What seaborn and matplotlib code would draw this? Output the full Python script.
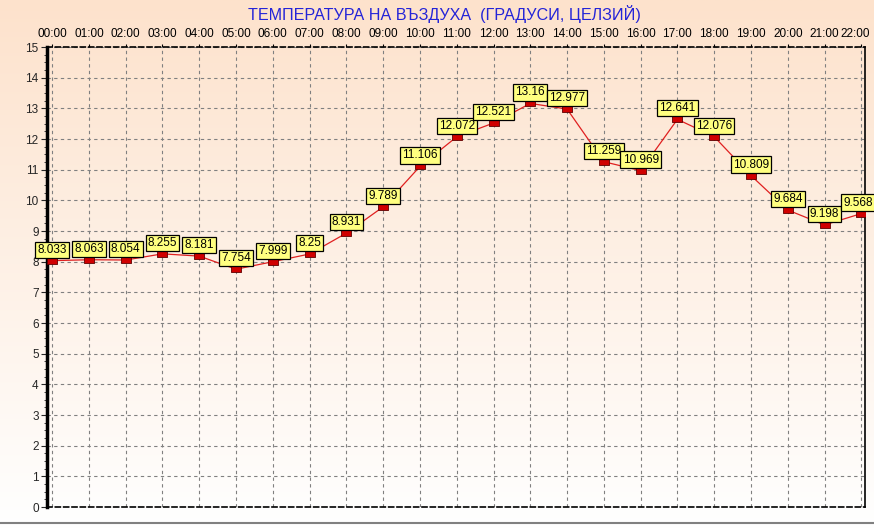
import numpy as np
import pandas as pd
import seaborn as sns
import matplotlib.pyplot as plt
import matplotlib.transforms as mtransforms
from matplotlib.path import Path
from matplotlib.ticker import MultipleLocator

# Data
hours = ["00:00", "01:00", "02:00", "03:00", "04:00", "05:00", "06:00", "07:00",
         "08:00", "09:00", "10:00", "11:00", "12:00", "13:00", "14:00", "15:00",
         "16:00", "17:00", "18:00", "19:00", "20:00", "21:00", "22:00"]
temps = [8.033, 8.063, 8.054, 8.255, 8.181, 7.754, 7.999, 8.25, 8.931, 9.789,
         11.106, 12.072, 12.521, 13.16, 12.977, 11.259, 10.969, 12.641, 12.076,
         10.809, 9.684, 9.198, 9.568]
labels = ["8.033", "8.063", "8.054", "8.255", "8.181", "7.754", "7.999", "8.25",
          "8.931", "9.789", "11.106", "12.072", "12.521", "13.16", "12.977",
          "11.259", "10.969", "12.641", "12.076", "10.809", "9.684", "9.198", "9.568"]

df = pd.DataFrame({"pos": np.arange(len(hours)), "temp": temps})

sns.set_style("white")
plt.rcParams["font.family"] = ["Liberation Sans", "DejaVu Sans"]

W, H = 874, 529
fig = plt.figure(figsize=(W / 100, H / 100), dpi=100)

# 1. Background gradient over the whole figure
bg = fig.add_axes([0, 0, 1, 1], zorder=0)
top_c = np.array([253, 226, 204]) / 255
bot_c = np.array([255, 255, 255]) / 255
t = np.linspace(0, 1, 256)[:, None]
grad = top_c * (1 - t[..., None]) + bot_c * t[..., None]
grad = np.repeat(grad, 2, axis=1)
bg.imshow(grad, aspect="auto", extent=[0, 1, 0, 1])
bg.plot([0, 1], [6 / H, 6 / H], color="#808080", lw=1.5)
bg.set_xlim(0, 1)
bg.set_ylim(0, 1)
bg.axis("off")

# 2. Plot area
x0, x1, y_top, y_bot = 47, 865, 47, 507
ax = fig.add_axes([x0 / W, (H - y_bot) / H, (x1 - x0) / W, (y_bot - y_top) / H], zorder=1)
ax.patch.set_alpha(0)

rect = Path([(-1, -0.55), (1, -0.55), (1, 0.55), (-1, 0.55), (-1, -0.55)],
            [Path.MOVETO, Path.LINETO, Path.LINETO, Path.LINETO, Path.CLOSEPOLY])
sns.lineplot(data=df, x="pos", y="temp", ax=ax, color="#E02020", lw=0.9,
             marker=rect, markersize=7.5, markerfacecolor="#D00000",
             markeredgecolor="#600000", markeredgewidth=0.6, zorder=3)

for i, (xi, yi, lab) in enumerate(zip(df["pos"], df["temp"], labels)):
    dx = -3 if i == len(labels) - 1 else 0
    ax.annotate(lab, (xi, yi), xytext=(dx, 5), textcoords="offset pixels",
                ha="center", va="bottom", fontsize=8.5, color="black",
                bbox=dict(boxstyle="square,pad=0.18", fc="#FFFF80", ec="black", lw=0.9),
                annotation_clip=False, zorder=4)

ax.set_xlim(-0.14, 22.1)
ax.set_ylim(0, 15)
ax.set_xticks(df["pos"])
ax.set_xticklabels(hours)
ax.xaxis.tick_top()
ax.tick_params(axis="x", length=2, pad=3, labelsize=8.5, colors="black")
ax.yaxis.set_major_locator(MultipleLocator(1))
ax.yaxis.set_minor_locator(MultipleLocator(0.25))
ax.tick_params(axis="y", which="major", length=4, pad=2, labelsize=8.5, left=True)
ax.tick_params(axis="y", which="minor", length=2, left=True)
ax.set_xlabel("")
ax.set_ylabel("")

# keep the last hour label inside the picture
last = ax.get_xticklabels()[-1]
last.set_transform(last.get_transform() + mtransforms.ScaledTranslation(-6 / 100, 0, fig.dpi_scale_trans))

ax.grid(True, which="major", color="#808080", lw=0.8, ls=(0, (3, 3)))
ax.set_axisbelow(True)

ax.spines["left"].set_linewidth(2.5)
ax.spines["left"].set_color("black")
ax.spines["right"].set_linewidth(1.2)
ax.spines["right"].set_color("black")
for s in ["top", "bottom"]:
    ax.spines[s].set_linestyle((0, (3, 2)))
    ax.spines[s].set_linewidth(1.2)
    ax.spines[s].set_color("black")

fig.text(444 / W, 1 - 14 / H, "ТЕМПЕРАТУРА НА ВЪЗДУХА  (ГРАДУСИ, ЦЕЛЗИЙ)",
         ha="center", va="center", fontsize=11.6, color="#2424D8")

fig.savefig("out.png", dpi=100)
